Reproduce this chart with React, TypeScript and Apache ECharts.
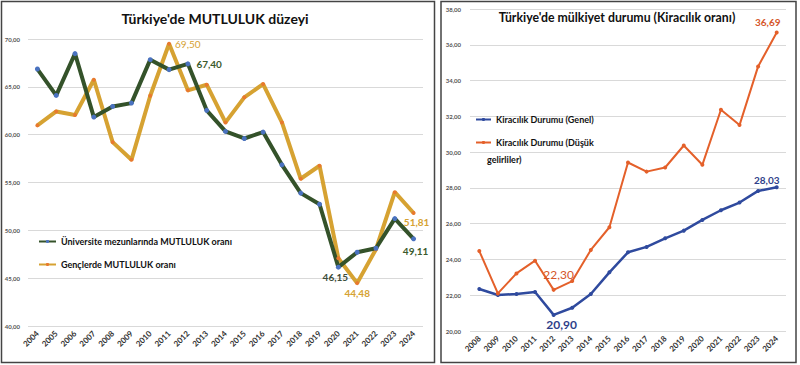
import React, { useEffect, useRef } from "react";
import * as echarts from "echarts";

const yearsA = ["2004","2005","2006","2007","2008","2009","2010","2011","2012","2013","2014","2015","2016","2017","2018","2019","2020","2021","2022","2023","2024"];
const uniHappy = [66.86, 64.1, 68.47, 61.84, 62.95, 63.3, 67.84, 66.8, 67.4, 62.54, 60.34, 59.6, 60.27, 56.85, 53.89, 52.73, 46.15, 47.71, 48.13, 51.23, 49.11];
const youthHappy = [60.97, 62.43, 62.05, 65.74, 59.22, 57.37, 64.07, 69.5, 64.63, 65.22, 61.28, 63.9, 65.29, 61.28, 55.39, 56.75, 47.08, 44.48, 48.03, 53.99, 51.81];

const yearsB = ["2008","2009","2010","2011","2012","2013","2014","2015","2016","2017","2018","2019","2020","2021","2022","2023","2024"];
const rentGeneral = [22.35, 22.01, 22.07, 22.18, 20.9, 21.3, 22.07, 23.28, 24.4, 24.7, 25.18, 25.61, 26.21, 26.75, 27.18, 27.83, 28.03];
const rentLow = [24.47, 22.1, 23.22, 23.93, 22.3, 22.79, 24.53, 25.8, 29.42, 28.91, 29.14, 30.37, 29.29, 32.37, 31.51, 34.79, 36.69];

const titleA = "Türkiye'de MUTLULUK düzeyi";
const titleB = "Türkiye'de mülkiyet durumu (Kiracılık oranı)";
const nameUni = "Üniversite mezunlarında MUTLULUK oranı";
const nameYouth = "Gençlerde MUTLULUK oranı";
const nameGen = "Kiracılık Durumu (Genel)";
const nameLow = "Kiracılık Durumu (Düşük gelirliler)";

const FONT = "Lato, 'Open Sans', sans-serif";
const fmt = (v: number) => v.toFixed(2).replace(".", ",");

const GREEN = "#34522a";
const GOLD = "#d6a232";
const BLUE = "#2f4a9e";
const ORANGE = "#e4602a";

const withLabels = (vals: number[], labels: Record<number, any>) =>
  vals.map((v, i) => (labels[i] ? { value: v, label: { show: true, formatter: (p: any) => fmt(p.value), fontFamily: FONT, ...labels[i] } } : v));

export default function App() {
  const ref = useRef<HTMLDivElement>(null);
  useEffect(() => {
    if (!ref.current) return;
    const chart = echarts.init(ref.current, null, { renderer: "svg" });
    const xLabel = { rotate: 45, interval: 0, fontSize: 8, fontWeight: "bold" as const, color: "#333", fontFamily: FONT, margin: 6 };
    const yLabel = { fontSize: 6, fontWeight: "bold" as const, color: "#555", fontFamily: FONT, formatter: (v: number) => fmt(v) };
    const split = { show: true, lineStyle: { color: "#d9d9d9", width: 1 } };
    const legText = { fontSize: 9, fontWeight: "bold" as const, color: "#111", fontFamily: FONT };
    chart.setOption({
      animation: false,
      backgroundColor: "#fff",
      grid: [
        { left: 28, top: 39, width: 395, height: 287 },
        { left: 470, top: 9, width: 316, height: 322 },
      ],
      xAxis: [
        { type: "category", gridIndex: 0, data: yearsA, boundaryGap: true, axisLine: { show: false }, axisTick: { show: false }, axisLabel: xLabel },
        { type: "category", gridIndex: 1, data: yearsB, boundaryGap: true, axisLine: { show: false }, axisTick: { show: false }, axisLabel: xLabel },
      ],
      yAxis: [
        { type: "value", gridIndex: 0, min: 40, max: 70, interval: 5, axisLabel: { ...yLabel, margin: 8 }, splitLine: split, axisLine: { show: false }, axisTick: { show: false } },
        { type: "value", gridIndex: 1, min: 20, max: 38, interval: 2, axisLabel: { ...yLabel, margin: 9 }, splitLine: split, axisLine: { show: false }, axisTick: { show: false } },
      ],
      legend: [
        { data: [nameUni], left: 38, top: 237, padding: 0, itemWidth: 17, itemHeight: 4, textStyle: legText },
        { data: [nameYouth], left: 38, top: 260, padding: 0, itemWidth: 17, itemHeight: 4, textStyle: legText },
        { data: [nameGen], left: 475, top: 115, padding: 0, itemWidth: 15, itemHeight: 4, textStyle: legText },
        { data: [nameLow], left: 475, top: 138, padding: 0, itemWidth: 15, itemHeight: 4, formatter: () => "Kiracılık Durumu (Düşük", textStyle: legText },
      ],
      series: [
        {
          name: nameYouth, type: "line", xAxisIndex: 0, yAxisIndex: 0,
          data: withLabels(youthHappy, {
            7: { position: "right", distance: 4, color: GOLD, fontSize: 10 },
            17: { position: "bottom", distance: 3, color: GOLD, fontSize: 10, fontWeight: "bold" },
            20: { position: "bottom", distance: 2, offset: [3, 0], color: GOLD, fontSize: 10, fontWeight: "bold" },
          }),
          lineStyle: { color: GOLD, width: 4 }, itemStyle: { color: "#e8792e" }, symbol: "circle", symbolSize: 4, showSymbol: true,
        },
        {
          name: nameUni, type: "line", xAxisIndex: 0, yAxisIndex: 0,
          data: withLabels(uniHappy, {
            8: { position: "right", distance: 6, color: "#3b5a2c", fontSize: 10, fontWeight: "bold" },
            16: { position: "bottom", distance: 2, offset: [-3, 0], color: "#3d4d3a", fontSize: 10, fontWeight: "bold" },
            20: { position: "bottom", distance: 5, offset: [2, 0], color: "#3b5a2c", fontSize: 10, fontWeight: "bold" },
          }),
          lineStyle: { color: GREEN, width: 4 }, itemStyle: { color: "#4a72c0" }, symbol: "circle", symbolSize: 5, showSymbol: true,
        },
        {
          name: nameGen, type: "line", xAxisIndex: 1, yAxisIndex: 1,
          data: withLabels(rentGeneral, {
            4: { position: "bottom", distance: 2, offset: [8, 0], color: "#2f3f8a", fontSize: 12, fontWeight: "bold" },
            16: { position: "top", distance: 0, offset: [-10, 0], color: "#2f3f8a", fontSize: 10, fontWeight: "bold" },
          }),
          lineStyle: { color: BLUE, width: 2.5 }, itemStyle: { color: BLUE }, symbol: "circle", symbolSize: 4, showSymbol: true,
        },
        {
          name: nameLow, type: "line", xAxisIndex: 1, yAxisIndex: 1,
          data: withLabels(rentLow, {
            4: { position: "top", distance: 7, offset: [5, 0], color: "#d5562a", fontSize: 12 },
            16: { position: "top", distance: 3, offset: [-9, 0], color: "#d5562a", fontSize: 10, fontWeight: "bold" },
          }),
          lineStyle: { color: ORANGE, width: 2 }, itemStyle: { color: ORANGE }, symbol: "circle", symbolSize: 4, showSymbol: true,
        },
      ],
      graphic: [
        { type: "rect", shape: { x: 1.5, y: 1.5, width: 433, height: 361 }, style: { fill: "none", stroke: "#444", lineWidth: 1.5 }, silent: true },
        { type: "rect", shape: { x: 441, y: 1.5, width: 355, height: 361 }, style: { fill: "none", stroke: "#444", lineWidth: 1.5 }, silent: true },
        { type: "text", x: 215, y: 18, style: { text: titleA, font: `bold 14px ${FONT}`, fill: "#111", textAlign: "center", textVerticalAlign: "middle", align: "center", verticalAlign: "middle" } },
        { type: "text", x: 617, y: 17, style: { text: titleB, font: `bold 12.3px ${FONT}`, fill: "#111", textAlign: "center", textVerticalAlign: "middle", align: "center", verticalAlign: "middle" } },
        { type: "text", x: 487, y: 159, style: { text: "gelirliler)", font: `bold 9px ${FONT}`, fill: "#111", textAlign: "left", textVerticalAlign: "middle", align: "left", verticalAlign: "middle" } },
      ],
    });
    return () => chart.dispose();
  }, []);
  return <div ref={ref} style={{ position: "fixed", left: 0, top: 0, width: 800, height: 365 }} />;
}
